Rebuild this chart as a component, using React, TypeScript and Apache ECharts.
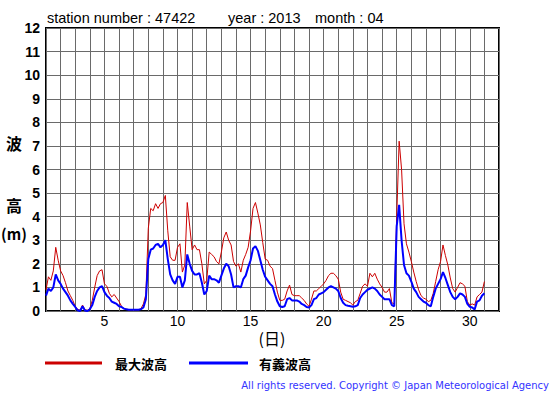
import React, { useEffect, useRef } from "react";
import * as echarts from "echarts";

// Time axis: day of month, samples every 4 hours starting day 1 00:00
const START_DAY = 1;
const SAMPLES_PER_DAY = 6;

// 最大波高 (maximum wave height, m)
const maxWave: number[] = [
  0.9, 1.45, 1.3, 1.7, 2.7, 2.15,
  1.7, 1.5, 1.2, 0.85, 0.65, 0.45,
  0.2, 0.07, 0.03, 0.25, 0.05, 0.03,
  0.1, 0.45, 1.0, 1.5, 1.7, 1.75,
  1.15, 1.05, 0.75, 0.6, 0.7, 0.55,
  0.4, 0.2, 0.1, 0.08, 0.05, 0.05,
  0.05, 0.05, 0.05, 0.1, 0.3, 0.7,
  3.5, 4.35, 4.25, 4.55, 4.35, 4.55,
  4.6, 4.9, 3.4, 2.3, 2.15, 2.15,
  2.7, 2.85, 1.65, 1.95, 4.6, 3.6,
  2.6, 2.8, 2.6, 2.6, 2.0, 1.15,
  1.3, 2.5, 2.4, 2.3, 2.1, 2.0,
  2.5, 3.1, 3.35, 3.0, 2.8, 2.1,
  1.9, 2.0, 1.65, 2.15, 2.4, 2.7,
  3.4, 4.35, 4.6, 4.15, 3.65, 2.9,
  2.2, 2.15, 1.9, 1.8, 1.3, 0.8,
  0.45, 0.45, 0.5, 0.85, 1.1, 0.7,
  0.65, 0.65, 0.65, 0.55, 0.45, 0.3,
  0.2, 0.5, 0.85, 0.85, 0.95, 1.05,
  1.15, 1.3, 1.5, 1.6, 1.6, 1.5,
  1.35, 0.8, 0.5, 0.45, 0.4, 0.35,
  0.25, 0.4, 0.45, 0.75, 1.05, 1.15,
  1.05, 1.6, 1.45, 1.6, 1.35, 1.15,
  1.0, 0.8, 0.8, 0.95, 0.35, 0.3,
  4.0, 7.2, 6.0, 3.7, 2.85, 2.5,
  2.1, 1.65, 1.25, 0.9, 0.65, 0.55,
  0.5, 0.4, 0.45, 0.75, 1.25, 1.75,
  2.1, 2.8, 2.35, 1.95, 1.4, 0.95,
  0.8, 1.0, 1.2, 1.15, 1.05, 0.4,
  0.25, 0.3, 0.25, 0.6, 0.7, 0.8,
  1.25,
];

// 有義波高 (significant wave height, m)
const sigWave: number[] = [
  0.65, 0.95, 0.85, 1.0, 1.55, 1.3,
  1.15, 0.95, 0.8, 0.65, 0.45, 0.3,
  0.17, 0.03, 0.0, 0.2, 0.02, 0.0,
  0.07, 0.25, 0.6, 0.85, 1.0, 1.05,
  0.8, 0.65, 0.55, 0.4, 0.35, 0.3,
  0.2, 0.17, 0.1, 0.07, 0.05, 0.05,
  0.05, 0.05, 0.05, 0.08, 0.15, 0.5,
  2.2, 2.6, 2.65, 2.8, 2.85, 2.7,
  2.8, 3.0, 2.2, 1.55, 1.3, 1.15,
  1.45, 1.45, 1.0, 1.3, 2.4, 2.0,
  1.7, 1.55, 1.55, 1.6, 1.2, 0.7,
  0.85, 1.5, 1.35, 1.35, 1.3, 1.2,
  1.5, 1.8, 2.0, 1.9, 1.55, 1.0,
  1.05, 1.05, 1.0, 1.35, 1.5, 1.85,
  2.15, 2.65, 2.75, 2.55, 2.15, 1.75,
  1.45, 1.3, 1.15, 1.05, 0.7, 0.4,
  0.2, 0.17, 0.2, 0.5, 0.55, 0.45,
  0.45, 0.45, 0.4, 0.3, 0.25, 0.17,
  0.15, 0.25, 0.5, 0.55, 0.7, 0.75,
  0.8, 0.9, 1.0, 1.05, 1.0, 0.95,
  0.85, 0.55, 0.35, 0.25, 0.22, 0.2,
  0.18, 0.2, 0.25, 0.55, 0.7, 0.8,
  0.9, 0.95, 1.0, 0.95, 0.85, 0.7,
  0.6, 0.5, 0.5, 0.5, 0.25, 0.2,
  3.6, 4.5, 3.0, 1.95, 1.6, 1.5,
  1.25, 0.95, 0.8, 0.6, 0.5, 0.4,
  0.35, 0.25, 0.2, 0.6, 0.95, 1.15,
  1.35, 1.65, 1.4, 1.1, 0.8, 0.6,
  0.5, 0.6, 0.75, 0.7, 0.6, 0.3,
  0.18, 0.15, 0.07, 0.4, 0.45, 0.65,
  0.75,
];

const X_MIN = 1;
const X_MAX = 32;
const Y_MIN = 0;
const Y_MAX = 12;
const X_LABEL_STEP = 5;

const TITLE_PARTS = ["station number : 47422", "year : 2013", "month : 04"];
const LEGEND_NAMES = ["最大波高", "有義波高"];
const Y_NAME_CHARS = ["波", "高", "(m)"];
const X_NAME = "(日)";
const FOOTER = "All rights reserved. Copyright © Japan Meteorological Agency";

const RED = "#cc0000";
const BLUE = "#0000ff";

const toPairs = (arr: number[]) =>
  arr.map((v, i) => [START_DAY + i / SAMPLES_PER_DAY, v]);

export default function App() {
  const ref = useRef<HTMLDivElement>(null);

  useEffect(() => {
    document.body.style.margin = "0";
    if (!ref.current) return;
    const chart = echarts.init(ref.current, null, { renderer: "svg" });
    const sans = "'Liberation Sans', Arial, sans-serif";
    const cjk = "'Noto Sans CJK JP', sans-serif";

    chart.setOption({
      animation: false,
      backgroundColor: "#ffffff",
      grid: {
        left: 46,
        top: 28,
        width: 453,
        height: 283,
        show: true,
        borderColor: "#000",
        borderWidth: 2,
        backgroundColor: "transparent",
      },
      xAxis: {
        type: "value",
        min: X_MIN,
        max: X_MAX,
        interval: 1,
        axisLine: { show: false },
        axisTick: { show: false },
        splitLine: { show: true, lineStyle: { color: "#6a6a6a", width: 1 } },
        axisLabel: {
          margin: 3,
          color: "#000",
          fontSize: 14,
          fontFamily: sans,
          formatter: (v: number) => (v % X_LABEL_STEP === 0 ? String(v) : ""),
        },
      },
      yAxis: {
        type: "value",
        min: Y_MIN,
        max: Y_MAX,
        interval: 1,
        axisLine: { show: false },
        axisTick: { show: false },
        splitLine: { show: true, lineStyle: { color: "#6a6a6a", width: 1 } },
        axisLabel: {
          margin: 6,
          color: "#000",
          fontSize: 14,
          fontWeight: "bold",
          fontFamily: sans,
        },
      },
      series: [
        {
          name: LEGEND_NAMES[0],
          type: "line",
          data: toPairs(maxWave),
          showSymbol: false,
          lineStyle: { color: RED, width: 1 },
          itemStyle: { color: RED },
          z: 2,
        },
        {
          name: LEGEND_NAMES[1],
          type: "line",
          data: toPairs(sigWave),
          showSymbol: false,
          lineStyle: { color: BLUE, width: 2 },
          itemStyle: { color: BLUE },
          z: 3,
        },
      ],
      graphic: [
        {
          type: "text",
          x: 47,
          y: 18,
          style: { text: TITLE_PARTS[0], fontSize: 14.5, fontFamily: sans, fill: "#000", verticalAlign: "middle" },
        },
        {
          type: "text",
          x: 228,
          y: 18,
          style: { text: TITLE_PARTS[1], fontSize: 14.5, fontFamily: sans, fill: "#000", verticalAlign: "middle" },
        },
        {
          type: "text",
          x: 315,
          y: 18,
          style: { text: TITLE_PARTS[2], fontSize: 14.5, fontFamily: sans, fill: "#000", verticalAlign: "middle" },
        },
        {
          type: "text",
          x: 14,
          y: 143,
          style: { text: Y_NAME_CHARS[0], fontSize: 16, fontWeight: "bold", fontFamily: cjk, fill: "#000", align: "center", verticalAlign: "middle" },
        },
        {
          type: "text",
          x: 14,
          y: 205,
          style: { text: Y_NAME_CHARS[1], fontSize: 16, fontWeight: "bold", fontFamily: cjk, fill: "#000", align: "center", verticalAlign: "middle" },
        },
        {
          type: "text",
          x: 14,
          y: 233,
          style: { text: Y_NAME_CHARS[2], fontSize: 15, fontWeight: "bold", fontFamily: cjk, fill: "#000", align: "center", verticalAlign: "middle" },
        },
        {
          type: "text",
          x: 272,
          y: 338,
          style: { text: X_NAME, fontSize: 16, fontFamily: cjk, fill: "#000", align: "center", verticalAlign: "middle" },
        },
        {
          type: "line",
          shape: { x1: 45, y1: 363, x2: 102, y2: 363 },
          style: { stroke: RED, lineWidth: 3 },
        },
        {
          type: "text",
          x: 115,
          y: 363,
          style: { text: LEGEND_NAMES[0], fontSize: 13, fontWeight: "bold", fontFamily: cjk, fill: "#000", verticalAlign: "middle" },
        },
        {
          type: "line",
          shape: { x1: 189, y1: 363, x2: 248, y2: 363 },
          style: { stroke: BLUE, lineWidth: 3 },
        },
        {
          type: "text",
          x: 259,
          y: 363,
          style: { text: LEGEND_NAMES[1], fontSize: 13, fontWeight: "bold", fontFamily: cjk, fill: "#000", verticalAlign: "middle" },
        },
        {
          type: "text",
          x: 549,
          y: 385,
          style: { text: FOOTER, fontSize: 10, fontFamily: "'DejaVu Sans', sans-serif", fill: "#3333ff", align: "right", verticalAlign: "middle" },
        },
      ],
    });

    return () => {
      chart.dispose();
    };
  }, []);

  return <div ref={ref} style={{ width: 555, height: 395 }} />;
}
